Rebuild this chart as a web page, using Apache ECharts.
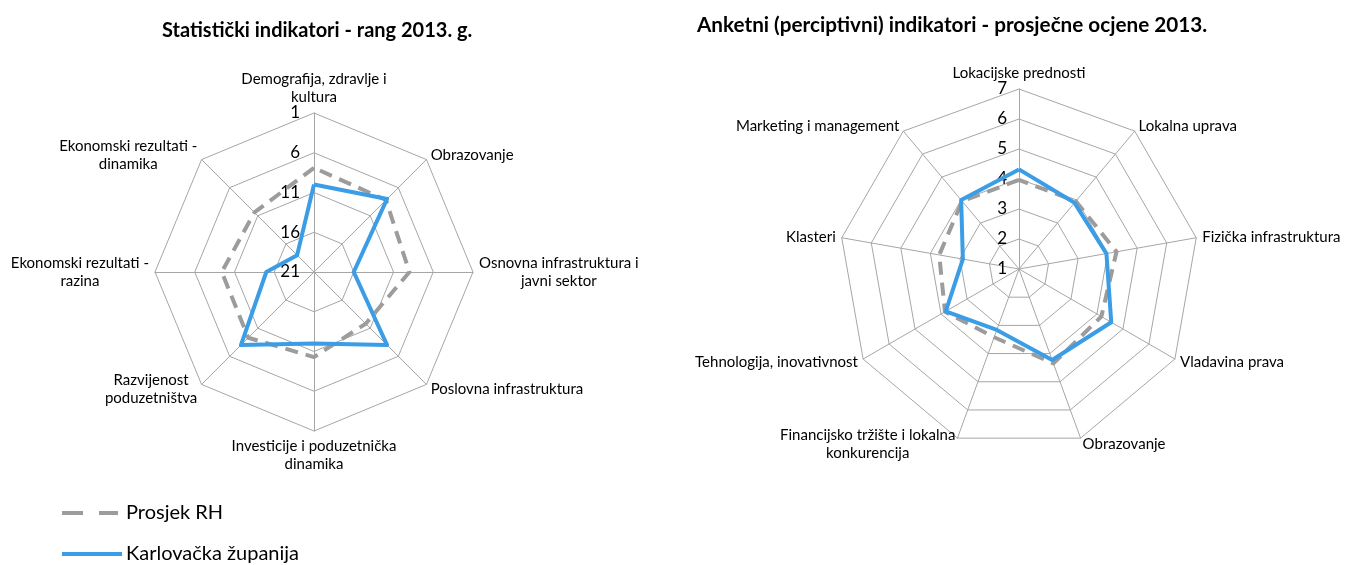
<!DOCTYPE html>
<html>
<head>
<meta charset="utf-8">
<script src="https://cdn.jsdelivr.net/npm/echarts@6/dist/echarts.min.js"></script>
<style>
  html, body { margin: 0; padding: 0; background: #fff; }
  #chart { width: 1346px; height: 565px; }
</style>
</head>
<body>
<div id="chart"></div>
<script>
// Statistical indicators (ranks, 1 = best), listed clockwise from the top
const statCategories = [
  'Demografija, zdravlje i\nkultura',
  'Obrazovanje',
  'Osnovna infrastruktura i\njavni sektor',
  'Poslovna infrastruktura',
  'Investicije i poduzetnička\ndinamika',
  'Razvijenost\npoduzetništva',
  'Ekonomski rezultati -\nrazina',
  'Ekonomski rezultati -\ndinamika'
]
const statAverage = [7.9, 8.2, 9.0, 11.8, 10.3, 9.3, 9.4, 10.4]
const statKarlovac = [10, 8, 16, 8, 12, 8, 15, 18]
const rankTicks = [21, 16, 11, 6, 1]

// Survey (perception) indicators, average grades, clockwise from the top
const surveyCategories = [
  'Lokacijske prednosti',
  'Lokalna uprava',
  'Fizička infrastruktura',
  'Vladavina prava',
  'Obrazovanje',
  'Financijsko tržište i lokalna\nkonkurencija',
  'Tehnologija, inovativnost',
  'Klasteri',
  'Marketing i management'
]
const surveyAverage = [3.97, 3.95, 4.3, 4.17, 4.35, 3.42, 3.85, 3.7, 3.95]
const surveyKarlovac = [4.32, 3.88, 3.96, 4.55, 4.23, 3.16, 3.82, 2.9, 4.0]
const gradeTicks = [1, 2, 3, 4, 5, 6, 7]

const seriesNames = ['Prosjek RH', 'Karlovačka županija']

const FONT = 'Lato, "Open Sans", sans-serif'
const GRID = '#a6a6a6'
const GRAY = '#9c9c9c'
const BLUE = '#3a9de6'

// echarts lays indicators out counter-clockwise, the source goes clockwise
const clockwise = arr => [arr[0]].concat(arr.slice(1).reverse())

// rank axis is reversed: rank 1 on the outer ring, 21 in the middle
const rankMin = rankTicks[rankTicks.length - 1]
const rankMax = rankTicks[0]
const flipRank = r => rankMax + rankMin - r

const nameStyle = {
  color: '#000',
  fontFamily: FONT,
  fontSize: 15,
  formatter: v => v.split('\n').map(s => '{c|' + s + '}').join('\n'),
  rich: { c: { align: 'center', fontFamily: FONT, fontSize: 15, color: '#000', lineHeight: 18 } }
}

const radarBase = {
  shape: 'polygon',
  startAngle: 90,
  nameGap: 6,
  axisName: nameStyle,
  splitArea: { show: false },
  splitLine: { lineStyle: { color: GRID, width: 1 } },
  axisLine: { lineStyle: { color: GRID, width: 1 } },
  axisTick: { show: false },
  axisLabel: { show: false }
}

// tick labels only on the top axis, left of it
const tickLabel = {
  show: true, color: '#000', fontFamily: FONT, fontSize: 17, align: 'right'
}

const statIndicators = clockwise(statCategories).map((name, i) => {
  const ind = { name, min: rankMin, max: rankMax }
  if (i === 0) {
    ind.axisLabel = Object.assign({}, tickLabel, {
      padding: [8, 6, 0, 0],
      formatter: v => String(flipRank(v))
    })
  }
  return ind
})

const surveyIndicators = clockwise(surveyCategories).map((name, i) => {
  const ind = { name, min: gradeTicks[0], max: gradeTicks[gradeTicks.length - 1] }
  if (i === 0) {
    ind.axisLabel = Object.assign({}, tickLabel, { padding: [7, 4, 0, 0] })
  }
  return ind
})

const avgLine = { color: GRAY, width: 4, type: [13, 8] }
const karLine = { color: BLUE, width: 4 }

const option = {
  animation: false,
  title: [
    {
      text: 'Statistički indikatori - rang 2013. g.',
      left: 157, top: 16,
      textStyle: { fontFamily: FONT, fontSize: 20, fontWeight: 'bold', color: '#000' }
    },
    {
      text: 'Anketni (perciptivni) indikatori - prosječne ocjene 2013.',
      left: 692, top: 10,
      textStyle: { fontFamily: FONT, fontSize: 20.7, fontWeight: 'bold', color: '#000' }
    }
  ],
  legend: {
    orient: 'vertical',
    left: 62, top: 503, height: 140, padding: 0,
    itemWidth: 60, itemHeight: 4, itemGap: 21,
    symbolKeepAspect: false,
    textStyle: { fontFamily: FONT, fontSize: 20, color: '#000', padding: [0, 0, 0, -1] },
    data: [
      { name: seriesNames[0], icon: 'path://M0,0H21V4H0Z M37,0H56V4H37Z M60,0V4Z', itemStyle: { color: GRAY } },
      { name: seriesNames[1], icon: 'path://M0,0H60V4H0Z', itemStyle: { color: BLUE } }
    ]
  },
  radar: [
    Object.assign({}, radarBase, {
      center: [314, 272], radius: 159, splitNumber: rankTicks.length - 1,
      indicator: statIndicators
    }),
    Object.assign({}, radarBase, {
      center: [1019, 269], radius: 180, splitNumber: gradeTicks.length - 1,
      indicator: surveyIndicators
    })
  ],
  series: [
    {
      type: 'radar', radarIndex: 0, symbol: 'none',
      data: [
        { name: seriesNames[0], value: clockwise(statAverage).map(flipRank), lineStyle: avgLine, itemStyle: { color: GRAY } },
        { name: seriesNames[1], value: clockwise(statKarlovac).map(flipRank), lineStyle: karLine, itemStyle: { color: BLUE } }
      ]
    },
    {
      type: 'radar', radarIndex: 1, symbol: 'none',
      data: [
        { name: seriesNames[0], value: clockwise(surveyAverage), lineStyle: avgLine, itemStyle: { color: GRAY } },
        { name: seriesNames[1], value: clockwise(surveyKarlovac), lineStyle: karLine, itemStyle: { color: BLUE } }
      ]
    }
  ]
}

const chart = echarts.init(document.getElementById('chart'))
chart.setOption(option)
</script>
</body>
</html>
